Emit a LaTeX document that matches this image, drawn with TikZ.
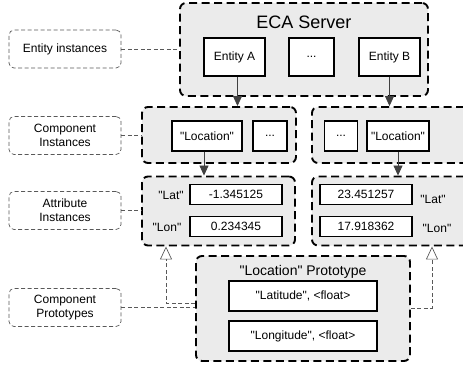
\documentclass[tikz,border=0pt]{standalone}
\usepackage{fontspec}
\defaultfontfeatures[\rmfamily]{}
\setmainfont{Liberation Sans}
\usetikzlibrary{arrows.meta}

\begin{document}
\begin{tikzpicture}[x=1pt, y=-1pt,
  font=\fontsize{12}{14}\selectfont,
  group/.style={draw, line width=1.9pt, dash pattern=on 8pt off 4.5pt, rounded corners=6pt, fill=black!8},
  item/.style={draw, line width=1.3pt, fill=white, minimum height=30pt, inner sep=2pt},
  value/.style={draw, line width=1.3pt, fill=white, minimum width=92pt, minimum height=20pt, inner sep=1pt},
  note/.style={draw=black!65, line width=0.7pt, dash pattern=on 4pt off 2.5pt, rounded corners=5pt,
    minimum width=112pt, minimum height=38pt, align=center},
  link/.style={draw=black!65, line width=0.7pt, dash pattern=on 4pt off 2.5pt},
  arr/.style={draw=black!75, line width=0.8pt, -{Triangle[length=10pt, width=9pt]}},
  inherit/.style={link, -{Triangle[open, length=13pt, width=12pt]}}
]
  % Fix the page size
  \useasboundingbox (0,0) rectangle (463,367);

  % Layer notes on the left
  \node[note] (lblEntity) at (65,49) {Entity instances};
  \node[note] (lblComp) at (65,135.5) {Component\\Instances};
  \node[note] (lblAttr) at (65,210.5) {Attribute\\Instances};
  \node[note] (lblProto) at (65,307.5) {Component\\Prototypes};

  % ECA server with its entities
  \node[group, minimum width=248pt, minimum height=93pt] (server) at (304,49.5) {};
  \node[font=\fontsize{18}{20}\selectfont] (serverTitle) at (304,22) {ECA Server};
  \node[item, minimum width=61pt, minimum height=38pt] (entA) at (234.5,57) {Entity A};
  \node[item, minimum width=45pt, minimum height=38pt] (dotsA) at (311.5,57) {...};
  \node[item, minimum width=61pt, minimum height=38pt] (entB) at (389.5,57) {Entity B};

  % Component instances
  \node[group, minimum width=154pt, minimum height=56pt] (compL) at (219,135) {};
  \node[group, minimum width=158pt, minimum height=56pt] (compR) at (391,135) {};
  \node[item, minimum width=70pt] (locL) at (207,136) {"Location"};
  \node[item, minimum width=34pt] (dotsL) at (270,136) {...};
  \node[item, minimum width=33pt] (dotsR) at (341,136) {...};
  \node[item, minimum width=62pt] (locR) at (398,136) {"Location"};

  % Attribute instances
  \node[group, minimum width=153pt, minimum height=69pt] (attrL) at (218.5,211) {};
  \node[group, minimum width=158pt, minimum height=69pt] (attrR) at (391,211) {};
  \node (latL) at (171,195) {"Lat"};
  \node[value] (valLatL) at (236,194.5) {-1.345125};
  \node (lonL) at (167,227) {"Lon"};
  \node[value] (valLonL) at (236,226.5) {0.234345};
  \node[value] (valLatR) at (366,194.5) {23.451257};
  \node (latR) at (433,199) {"Lat"};
  \node[value] (valLonR) at (366,226.5) {17.918362};
  \node (lonR) at (437,228) {"Lon"};

  % Prototype
  \node[group, minimum width=214pt, minimum height=105pt] (proto) at (303,308.5) {};
  \node[font=\fontsize{14}{16}\selectfont] (protoTitle) at (303,272) {"Location" Prototype};
  \node[item, minimum width=148pt] (fieldLat) at (303,296) {"Latitude", <float>};
  \node[item, minimum width=148pt] (fieldLon) at (303,336) {"Longitude", <float>};

  % Note links
  \draw[link] (lblEntity.east) -- (lblEntity.east -| server.west);
  \draw[link] (lblComp.east) -- (lblComp.east -| compL.west);
  \draw[link] (lblAttr.east) -- (lblAttr.east -| attrL.west);
  \draw[link] (lblProto.east) -- (lblProto.east -| proto.west);

  % References
  \draw[arr] ([xshift=3pt]entA.south) -- ([xshift=3pt]entA.south |- compL.north);
  \draw[arr] (entB.south) -- (entB.south |- compR.north);
  \draw[arr] ([xshift=-3pt]locL.south) -- ([xshift=-3pt]locL.south |- attrL.north);
  \draw[arr] (locR.south) -- (locR.south |- attrR.north);

  % Instances of the prototype
  \coordinate (bendL) at (166,303);
  \coordinate (bendR) at (432,308);
  \draw[inherit] (bendL -| proto.west) -- (bendL) -- (bendL |- attrL.south);
  \draw[inherit] (bendR -| proto.east) -- (bendR) -- (bendR |- attrR.south);
\end{tikzpicture}
\end{document}
